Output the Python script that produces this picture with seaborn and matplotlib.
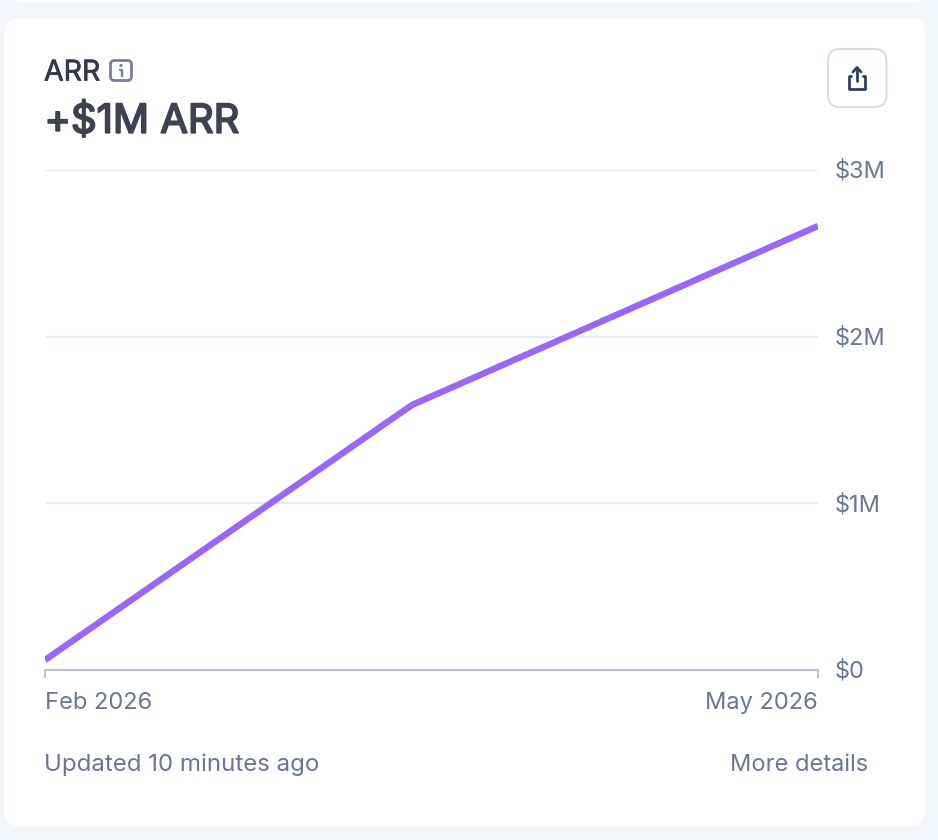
import pandas as pd
import matplotlib
matplotlib.use("Agg")
import matplotlib.pyplot as plt
import matplotlib.dates as mdates
import matplotlib.patheffects as pe
from matplotlib.patches import FancyBboxPatch, Circle
from matplotlib.transforms import ScaledTranslation
import seaborn as sns

# values
dates = ["2026-02-01 00:00", "2026-03-15 06:00", "2026-05-01 00:00"]
arr_values = [0.06e6, 1.59e6, 2.664e6]
y_ticks = [0, 1e6, 2e6, 3e6]
y_labels = ["$0", "$1M", "$2M", "$3M"]
x_ticks = ["2026-02-01", "2026-05-01"]
x_labels = ["Feb 2026", "May 2026"]

BG = "#f3f6fa"
GREY = "#6b7690"
DARK = "#3d4150"
PURPLE = "#9966f7"

sns.set_theme(style="white")
plt.rcParams["font.family"] = ["Inter", "DejaVu Sans"]

df = pd.DataFrame({"date": pd.to_datetime(dates), "arr": arr_values})

W, H = 938, 840
fig = plt.figure(figsize=(W / 100, H / 100), dpi=100, facecolor=BG)

# pixel coordinate layer for the card and the icons
bg = fig.add_axes([0, 0, 1, 1], zorder=0)
bg.set_xlim(0, W)
bg.set_ylim(H, 0)
bg.axis("off")


def rbox(x0, y0, x1, y1, r, **kw):
    bg.add_patch(FancyBboxPatch((x0 + r, y0 + r), x1 - x0 - 2 * r, y1 - y0 - 2 * r,
                                boxstyle=f"round,pad={r},rounding_size={r}", **kw))


rbox(4, 18, 925, 826, 14, fc="white", ec="none")
rbox(10, -30, 925, 2, 10, fc="white", ec="none")

# info icon
rbox(110.5, 60.5, 131.5, 80.5, 4, fc="white", ec="#74819b", lw=2)
bg.add_patch(Circle((121, 65.5), 1.6, fc="#74819b", ec="none"))
bg.plot([119.5, 121.5, 121.5], [70, 70, 76], color="#74819b", lw=1.7, solid_capstyle="round")

# share button
rbox(828, 49, 886.5, 107, 12, fc="white", ec="#d5dce6", lw=1.5)
ic = "#2f4159"
bg.plot([851, 849, 849, 865, 865, 863], [76, 76, 89, 89, 76, 76], color=ic, lw=2,
        solid_joinstyle="round")
bg.plot([857, 857], [68, 81], color=ic, lw=2, solid_capstyle="round")
bg.plot([853, 857, 861], [72, 67.5, 72], color=ic, lw=2, solid_capstyle="round")

arr_txt = bg.text(44, 73, "ARR", fontsize=20.5, color="#34364a", va="center", ha="left")
arr_txt.set_path_effects([pe.withStroke(linewidth=0.5, foreground="#34364a")])
big = bg.text(44.5, 122, "+$1M ARR", fontsize=28.8, color=DARK, va="center", ha="left")
big.set_path_effects([pe.withStroke(linewidth=1.3, foreground=DARK)])
bg.text(44, 765, "Updated 10 minutes ago", fontsize=17.3, color=GREY, va="center", ha="left")
bg.text(868, 765, "More details", fontsize=17, color=GREY, va="center", ha="right")

# chart
ax = fig.add_axes([45 / W, 1 - 670 / H, (818 - 45) / W, 500 / H], zorder=1)
ax.patch.set_alpha(0)
sns.lineplot(data=df, x="date", y="arr", ax=ax, color=PURPLE, linewidth=4.6)
ax.lines[0].set_solid_capstyle("butt")
ax.lines[0].set_solid_joinstyle("miter")

ax.set_xlim(pd.Timestamp(x_ticks[0]), pd.Timestamp(x_ticks[1]))
ax.set_ylim(0, 3e6)
ax.set_xlabel("")
ax.set_ylabel("")

ax.yaxis.tick_right()
ax.set_yticks(y_ticks)
ax.set_yticklabels(y_labels, fontsize=17, color=GREY)
ax.tick_params(axis="y", length=0, pad=12)
ax.grid(axis="y", color="#e6eaf1", lw=1.6)
ax.set_axisbelow(True)
# labels sit a pixel higher than centred
nudge = ScaledTranslation(0, 1 / 100, fig.dpi_scale_trans)
for t in ax.get_yticklabels():
    t.set_transform(t.get_transform() + nudge)

ax.set_xticks(mdates.date2num(pd.to_datetime(x_ticks)))
ax.set_xticklabels(x_labels, fontsize=17, color=GREY)
ax.tick_params(axis="x", bottom=True, length=6, width=1.5, color="#b9c2d0", pad=10)
xt = ax.get_xticklabels()
xt[0].set_ha("left")
xt[1].set_ha("right")

for s in ["top", "left", "right"]:
    ax.spines[s].set_visible(False)
ax.spines["bottom"].set_color("#b9c2d0")
ax.spines["bottom"].set_linewidth(1.5)

fig.savefig("out.png", dpi=100, facecolor=BG)
